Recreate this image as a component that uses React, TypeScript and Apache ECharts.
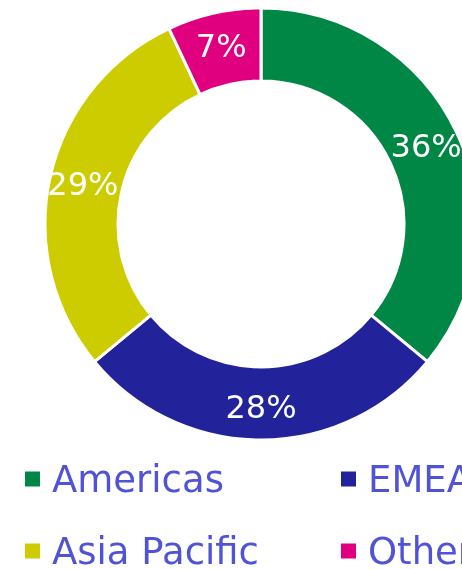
import React, { useEffect, useRef } from "react";
import * as echarts from "echarts";

const categories = ["Americas", "EMEA", "Asia Pacific", "Other"];
const values = [36, 28, 29, 7];
const colors = ["#008745", "#22229a", "#cccc00", "#e0007f"];

export default function App() {
  const ref = useRef<HTMLDivElement>(null);
  useEffect(() => {
    const chart = echarts.init(ref.current!, null, { renderer: "svg" });
    const legendText = {
      fontFamily: "DejaVu Sans",
      fontSize: 37,
      lineHeight: 40,
      color: "#5053d6",
      padding: [0, 0, 0, 6],
    };
    const legendBase = {
      orient: "vertical",
      top: 459,
      height: 150,
      padding: 0,
      itemWidth: 17,
      itemHeight: 17,
      itemGap: 32,
      icon: "rect",
      textStyle: legendText,
    };
    chart.setOption({
      animation: false,
      textStyle: { fontFamily: "DejaVu Sans" },
      legend: [
        { ...legendBase, left: 23, data: [categories[0], categories[2]] },
        { ...legendBase, left: 339, data: [categories[1], categories[3]] },
      ],
      series: [
        {
          type: "pie",
          center: [261, 224],
          radius: [143, 216],
          startAngle: 90,
          clockwise: true,
          avoidLabelOverlap: false,
          itemStyle: { borderColor: "#ffffff", borderWidth: 3 },
          label: {
            show: true,
            position: "inside",
            formatter: (p: any) => Math.round(p.percent) + "%",
            color: "#ffffff",
            fontFamily: "DejaVu Sans",
            fontSize: 32,
          },
          labelLine: { show: false },
          emphasis: { disabled: true },
          data: categories.map((c, i) => ({
            name: c,
            value: values[i],
            itemStyle: { color: colors[i] },
          })),
        },
      ],
    });
    return () => chart.dispose();
  }, []);
  return (
    <div
      ref={ref}
      style={{ position: "fixed", left: 0, top: 0, width: 462, height: 569 }}
    />
  );
}
